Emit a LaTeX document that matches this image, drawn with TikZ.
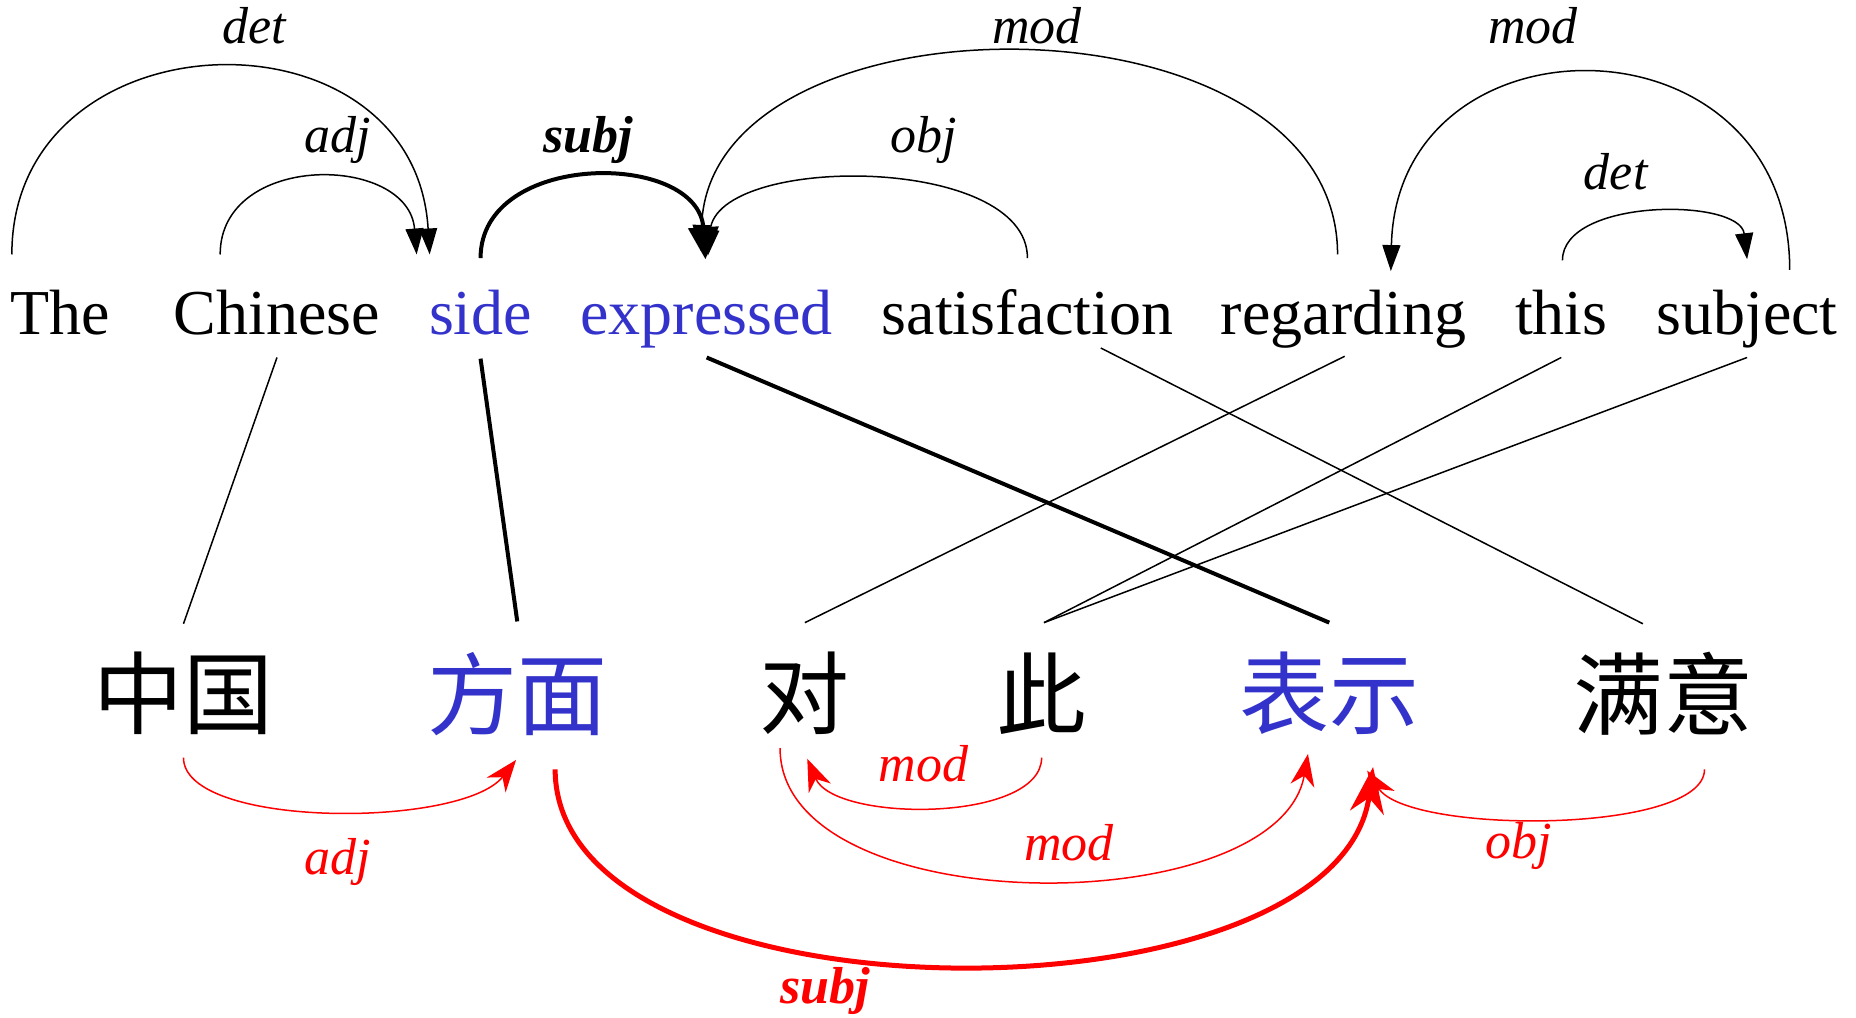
\documentclass[tikz,border=0pt]{standalone}
\usepackage{fontspec}
\setmainfont{Liberation Serif}
\newfontfamily\cjk{Noto Sans CJK SC}
\usetikzlibrary{arrows.meta}
\definecolor{wblue}{RGB}{51,51,204}
\definecolor{wred}{RGB}{255,0,0}
\begin{document}
\begin{tikzpicture}[x=1.1837pt,y=-1.1837pt,
  word/.style={anchor=base,inner sep=0pt,font=\fontsize{64}{70}\selectfont},
  cjkword/.style={inner sep=0pt,font=\cjk\fontsize{90}{96}\selectfont},
  lbl/.style={inner sep=0pt,font=\itshape\fontsize{52}{60}\selectfont},
  blbl/.style={inner sep=0pt,font=\bfseries\itshape\fontsize{52}{60}\selectfont},
  thinline/.style={line width=1.5pt},
  thickline/.style={line width=4pt},
  toptip/.style={thinline,-{Triangle[length=26pt,width=18pt]}},
  boldtip/.style={thickline,-{Triangle[length=32pt,width=30pt]}},
  redtip/.style={wred,thinline,-{Stealth[length=32pt,width=24pt,inset=10pt]}},
  redboldtip/.style={wred,line width=5pt,-{Stealth[length=46pt,width=34pt,inset=15pt]}}
]
\useasboundingbox (0,0) rectangle (1568,860);

% English words
\node[word] (the) at (51,283) {The};
\node[word] (chinese) at (234,283) {Chinese};
\node[word,text=wblue] (side) at (406,283) {side};
\node[word,text=wblue] (expressed) at (597,283) {expressed};
\node[word] (satisfaction) at (868,283) {satisfaction};
\node[word] (regarding) at (1135,283) {regarding};
\node[word] (this) at (1319,283) {this};
\node[word] (subject) at (1476,283) {subject};

% Chinese words
\node[cjkword] (zhongguo) at (155,586) {中国};
\node[cjkword,text=wblue] (fangmian) at (437,586) {方面};
\node[cjkword] (dui) at (680,586) {对};
\node[cjkword] (ci) at (880,586) {此};
\node[cjkword,text=wblue] (biaoshi) at (1123,586) {表示};
\node[cjkword] (manyi) at (1405,586) {满意};

% top connection points
\coordinate (theT) at (10,215);
\coordinate (chT) at (186,215);
\coordinate (sideIn1) at (363,215);
\coordinate (sideIn2) at (352,215);
\coordinate (sideT) at (406,218);
\coordinate (expIn1) at (596,219);
\coordinate (expIn2) at (598,216);
\coordinate (expIn3) at (592,212);
\coordinate (satT) at (868,218);
\coordinate (regT) at (1130,215);
\coordinate (regIn) at (1175,229);
\coordinate (thisT) at (1320,220);
\coordinate (subIn) at (1476,219);
\coordinate (subT) at (1512,228);

% top arcs
\draw[toptip] (theT) .. controls (10,10) and (350,0) .. (sideIn1);
\draw[toptip] (chT) .. controls (186,128) and (345,130) .. (sideIn2);
\draw[boldtip] (sideT) .. controls (406,127) and (590,127) .. (expIn1);
\draw[toptip] (satT) .. controls (868,130) and (606,130) .. (expIn2);
\draw[toptip] (regT) .. controls (1130,-12) and (600,-12) .. (expIn3);
\draw[toptip] (subT) .. controls (1512,7) and (1180,7) .. (regIn);
\draw[toptip] (thisT) .. controls (1320,167) and (1470,167) .. (subIn);

% top labels
\node[lbl] (l1) at (215,22) {det};
\node[lbl] (l2) at (285,118) {adj};
\node[blbl] (l3) at (497,118) {subj};
\node[lbl] (l4) at (780,118) {obj};
\node[lbl] (l5) at (876,22) {mod};
\node[lbl] (l6) at (1295,22) {mod};
\node[lbl] (l7) at (1365,145) {det};

% alignment points
\coordinate (chB) at (234,302);
\coordinate (zgT) at (155,527);
\coordinate (sideB) at (406,303);
\coordinate (fmT) at (437,525);
\coordinate (expB) at (597,302);
\coordinate (bsT) at (1123,526);
\coordinate (satB) at (930,294);
\coordinate (myT) at (1388,527);
\coordinate (regB) at (1136,301);
\coordinate (duiT) at (680,526);
\coordinate (thisB) at (1319,302);
\coordinate (subB) at (1476,302);
\coordinate (ciT) at (882,526);

\draw[thinline] (chB) -- (zgT);
\draw[thickline] (sideB) -- (fmT);
\draw[thickline] (expB) -- (bsT);
\draw[thinline] (satB) -- (myT);
\draw[thinline] (regB) -- (duiT);
\draw[thinline] (thisB) -- (ciT);
\draw[thinline] (subB) -- (ciT);

% bottom connection points
\coordinate (zgB) at (155,640);
\coordinate (fmIn) at (436,642);
\coordinate (fmB) at (469,650);
\coordinate (bsIn1) at (1160,648);
\coordinate (ciB) at (880,640);
\coordinate (duiIn) at (682,641);
\coordinate (duiB) at (659,632);
\coordinate (bsIn2) at (1105,637);
\coordinate (myB) at (1440,650);
\coordinate (bsIn3) at (1155,651);

% bottom arcs
\draw[redtip] (zgB) .. controls (155,700) and (390,700) .. (fmIn);
\draw[redboldtip] (fmB) .. controls (469,870) and (1130,870) .. (bsIn1);
\draw[redtip] (ciB) .. controls (880,695) and (705,695) .. (duiIn);
\draw[redtip] (duiB) .. controls (659,780) and (1080,780) .. (bsIn2);
\draw[redtip] (myB) .. controls (1440,705) and (1190,705) .. (bsIn3);

% bottom labels
\node[lbl,text=wred] (r1) at (285,728) {adj};
\node[blbl,text=wred] (r2) at (697,837) {subj};
\node[lbl,text=wred] (r3) at (780,645) {mod};
\node[lbl,text=wred] (r4) at (903,712) {mod};
\node[lbl,text=wred] (r5) at (1283,715) {obj};
\end{tikzpicture}
\end{document}
